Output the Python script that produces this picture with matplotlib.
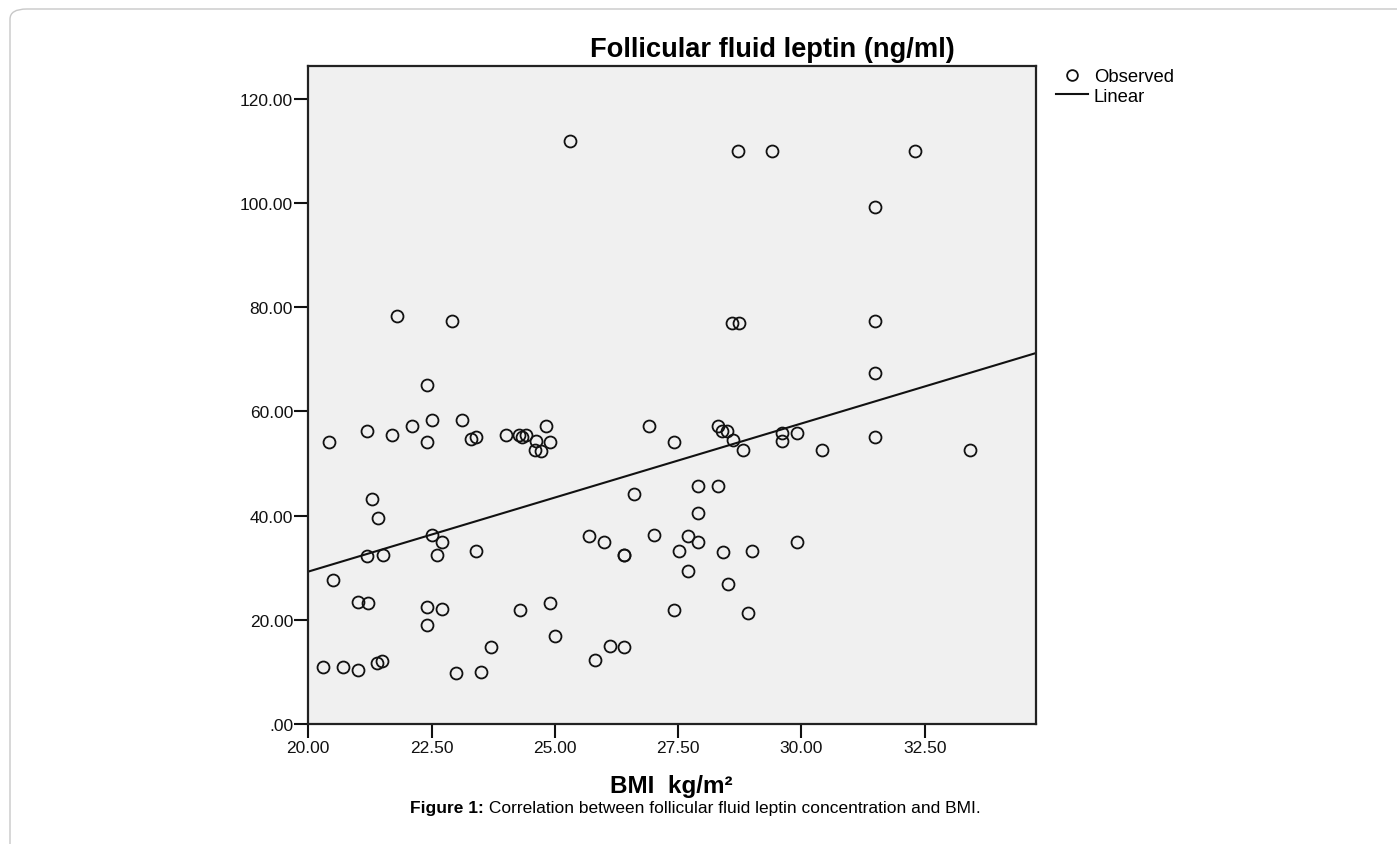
import matplotlib
matplotlib.use("Agg")
import matplotlib.pyplot as plt
from matplotlib.patches import FancyBboxPatch
import numpy as np

plt.rcParams["font.family"] = ["Liberation Sans", "DejaVu Sans"]

# BMI (kg/m2) and follicular fluid leptin (ng/ml)
bmi = [25.31, 28.71, 29.40, 32.31, 31.50, 21.80, 22.91, 28.60, 28.74, 31.50,
       31.50, 22.40, 20.41, 21.20, 21.70, 22.10, 22.40, 22.51, 23.11, 23.30,
       23.40, 24.00, 24.28, 24.33, 24.41, 24.62, 24.60, 24.71, 24.81, 24.90,
       26.90, 27.41, 28.31, 28.39, 28.49, 28.61, 28.81, 29.60, 29.60, 29.91,
       30.41, 31.50, 33.41, 21.30, 21.41, 26.60, 27.90, 28.31, 27.90, 22.51,
       22.71, 21.20, 21.51, 22.61, 23.40, 25.70, 26.00, 26.40, 26.40, 27.01,
       27.70, 27.90, 29.91, 27.51, 28.41, 29.00, 27.70, 28.51, 20.50, 21.01,
       21.21, 22.40, 22.40, 22.71, 24.30, 24.90, 25.01, 27.41, 28.91, 23.70,
       20.30, 20.70, 21.01, 21.40, 21.50, 22.99, 23.51, 25.81, 26.11, 26.40]
leptin = [111.9, 110.0, 110.0, 110.0, 99.3, 78.4, 77.3, 77.0, 77.0, 77.3,
          67.3, 65.0, 54.2, 56.3, 55.4, 57.3, 54.2, 58.4, 58.4, 54.7,
          55.2, 55.4, 55.4, 55.2, 55.5, 54.3, 52.7, 52.4, 57.3, 54.2,
          57.2, 54.1, 57.3, 56.3, 56.2, 54.5, 52.7, 55.9, 54.3, 55.9,
          52.7, 55.2, 52.7, 43.2, 39.5, 44.2, 45.8, 45.8, 40.5, 36.3,
          34.9, 32.2, 32.5, 32.5, 33.2, 36.1, 34.9, 32.4, 32.4, 36.3,
          36.1, 34.9, 34.9, 33.2, 33.1, 33.3, 29.4, 26.9, 27.6, 23.5,
          23.3, 22.6, 19.0, 22.1, 21.9, 23.2, 17.0, 21.9, 21.3, 14.8,
          11.1, 11.1, 10.4, 11.7, 12.2, 9.9, 10.1, 12.3, 15.1, 14.9]

# linear fit line as drawn in the figure
fit_intercept = -27.5
fit_slope = 2.84

x_ticks = [20.0, 22.5, 25.0, 27.5, 30.0, 32.5]
y_ticks = [0, 20, 40, 60, 80, 100, 120]
x_lim = (20.0, 34.75)
y_lim = (0, 126.3)

W, H = 1397, 845
fig = plt.figure(figsize=(W / 100, H / 100), dpi=100)

# rounded page border
border = FancyBboxPatch((10 / W, -20 / H), (W + 20) / W, (H + 10) / H,
                        boxstyle="round,pad=0,rounding_size=0.012",
                        transform=fig.transFigure, facecolor="white",
                        edgecolor="#c8c8c8", linewidth=1.0, zorder=-10)
fig.patches.append(border)

ax = fig.add_axes([308.3 / W, 1 - 725.4 / H, (1035.7 - 308.3) / W, (725.4 - 66.7) / H])
ax.set_facecolor("#f0f0f0")

ax.plot(bmi, leptin, linestyle="none", marker="o", markersize=8.6,
        markerfacecolor="none", markeredgecolor="#111111", markeredgewidth=1.3,
        label="Observed", clip_on=False)

xs = np.array(x_lim)
ax.plot(xs, fit_intercept + fit_slope * xs, color="#111111", linewidth=1.5,
        label="Linear")

ax.set_xlim(*x_lim)
ax.set_ylim(*y_lim)
ax.set_xticks(x_ticks)
ax.set_xticklabels([f"{v:.2f}" for v in x_ticks])
ax.set_yticks(y_ticks)
ax.set_yticklabels([".00" if v == 0 else f"{v:.2f}" for v in y_ticks])
ax.tick_params(axis="both", direction="out", length=10, width=1.5,
               labelsize=12.5, color="#111111", labelcolor="#111111", pad=1)
for s in ax.spines.values():
    s.set_linewidth(1.6)
    s.set_color("#222222")

leg = ax.legend(loc="upper left", bbox_to_anchor=(1056 / W, 1 - 69 / H),
                bbox_transform=fig.transFigure, frameon=False, fontsize=13.3,
                handlelength=1.75, handletextpad=0.3, borderpad=0,
                labelspacing=0.15, borderaxespad=0, markerscale=0.9)

fig.text(772 / W, 1 - 56.7 / H, "Follicular fluid leptin (ng/ml)",
         ha="center", va="baseline", fontsize=19.6, fontweight="bold")
fig.text(671 / W, 1 - 793 / H, "BMI  kg/m²", ha="center", va="baseline",
         fontsize=17.5, fontweight="bold")

cap = fig.text(410 / W, 1 - 813 / H, "Figure 1:", ha="left", va="baseline",
               fontsize=12.5, fontweight="bold")
ax.annotate(" Correlation between follicular fluid leptin concentration and BMI.",
            xy=(1, 0), xycoords=cap, ha="left", va="bottom", fontsize=12.5,
            annotation_clip=False)

fig.savefig("out.png", dpi=100)
